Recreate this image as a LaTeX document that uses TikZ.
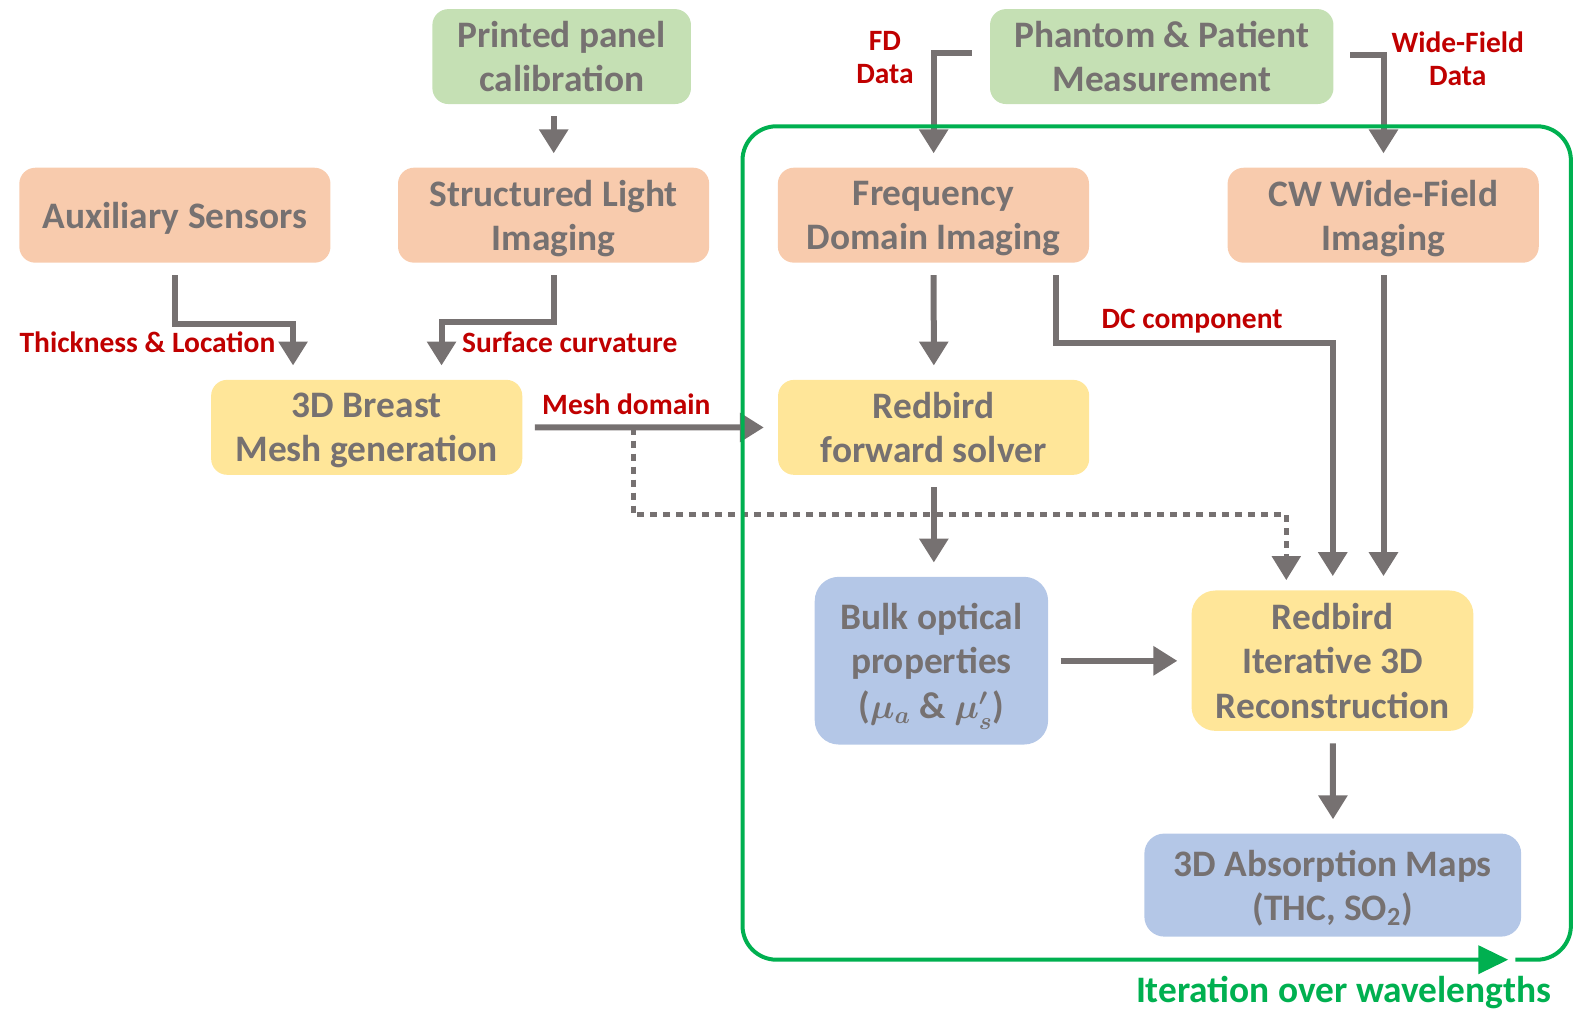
\documentclass[tikz,border=0pt]{standalone}
\usepackage{fontspec}
\setmainfont{Carlito}
\usetikzlibrary{arrows.meta,calc}
\definecolor{boxtext}{HTML}{767171}
\definecolor{arrowgray}{HTML}{767171}
\definecolor{labelred}{HTML}{C00000}
\definecolor{loopgreen}{HTML}{00B050}
\definecolor{greenbox}{HTML}{C5E0B4}
\definecolor{orangebox}{HTML}{F8CBAD}
\definecolor{yellowbox}{HTML}{FFE699}
\definecolor{bluebox}{HTML}{B4C7E7}
\begin{document}
\begin{tikzpicture}[x=0.5pt,y=-0.5pt,scale=1.0102,transform shape,
    >={Triangle[width=14pt,length=12pt]},node distance=105pt,
    box/.style={rounded corners=8pt,minimum width=154pt,minimum height=47pt,
      inner sep=0pt,align=center,text=boxtext,text depth=0pt,
      font=\bfseries\fontsize{18.5}{22}\selectfont},
    src/.style={box,fill=greenbox},
    meas/.style={box,fill=orangebox},
    proc/.style={box,fill=yellowbox},
    res/.style={box,fill=bluebox},
    flow/.style={->,draw=arrowgray,line width=3pt,shorten <=6pt,shorten >=7pt},
    dots/.style={->,draw=arrowgray,line width=2.5pt,dash pattern=on 3.5pt off 3pt,
      shorten >=5pt},
    lbl/.style={text=labelred,font=\bfseries\fontsize{14.6}{16.5}\selectfont,
      align=center,inner sep=1pt},
    iter/.style={text=loopgreen,font=\bfseries\fontsize{18.5}{20}\selectfont,inner sep=1pt}]
  \useasboundingbox (0,0) rectangle (1568,1025.5);

  \node[src,minimum width=128pt] (panel) at (556,56) {Printed panel\\calibration};
  \node[src,minimum width=170pt] (phan) at (1150,56) {Phantom \& Patient\\Measurement};

  \node[meas] (sli) at (548,213) {Structured Light\\Imaging};
  \node[meas] (aux) [left of=sli,node distance=187.5pt] {Auxiliary Sensors};
  \node[meas] (fd) at (924,213) {Frequency\\Domain Imaging};
  \node[meas] (cw) [right of=fd,node distance=222.5pt] {CW Wide-Field\\Imaging};

  \node[proc] (mesh) at (363,423) {3D Breast\\Mesh generation};
  \node[proc] (fwd) [below of=fd] {Redbird\\forward solver};

  \node[res,rounded corners=12pt,minimum width=115.5pt,minimum height=83pt] (bulk)
    at (922,654) {Bulk optical\\properties\\({\boldmath$\mu_a$} \& {\boldmath$\mu'_s$})};
  \node[proc,rounded corners=12pt,minimum width=139.5pt,minimum height=69.5pt] (rec)
    at (1319,654) {Redbird\\Iterative 3D\\Reconstruction};
  \node[res,rounded corners=10pt,minimum width=186.5pt,minimum height=51pt] (maps)
    [below of=rec,node distance=111pt] {3D Absorption Maps\\(THC, SO\textsubscript{2})};

  % measurement inputs
  \draw[flow] (panel.south -| sli.north) -- (sli.north);
  \draw[flow,shorten <=9pt] ([yshift=2pt]phan.west) -| (fd.north);
  \draw[flow,shorten <=8pt] ([yshift=1pt]phan.east) -| (cw.north);
  \node[lbl] (fdlbl) at (876,57) {FD\\Data};
  \node[lbl] (wflbl) at (1443,58) {Wide-Field\\Data};

  % mesh
  \draw[flow] (aux.south) -- ++(0,60) -| ([shift={(-73,0)}]mesh.north);
  \draw[flow] (sli.south) -- ++(0,58) -| ([shift={(74,0)}]mesh.north);
  \node[lbl,anchor=east] (thlbl) at (275,339) {Thickness \& Location};
  \node[lbl,anchor=west] (sclbl) at (455,339) {Surface curvature};
  \draw[flow] (mesh.east) -- (fwd.west);
  \node[lbl] (mdlbl) at (620,400) {Mesh domain};
  \coordinate (split) at ($(mesh.east)+(109,0)$);
  \draw[dots] (split) -- ++(0,86) -| ([shift={(-46,0)}]rec.north);

  % solver and reconstruction
  \draw[flow] (fd.south) -- (fwd.north);
  \draw[flow] ([shift={(121,0)}]fd.south) -- ++(0,79) -| (rec.north);
  \node[lbl] (dclbl) at (1180,318) {DC component};
  \draw[flow] (cw.south) -- (cw.south |- rec.north);
  \draw[flow] (fwd.south) -- (fwd.south |- bulk.north);
  \draw[flow] (bulk.east) -- (rec.west);
  \draw[flow] (rec.south) -- (maps.north);

  % wavelength loop
  \draw[loopgreen,line width=2pt,rounded corners=17pt,
    -{Triangle[width=14pt,length=15pt]}]
    (1500,950) -- (1555,950) -- (1555,125) -- (735,125) -- (735,950) -- (1493,950);
  \node[iter] (iterlbl) at (1330,982) {Iteration over wavelengths};
\end{tikzpicture}
\end{document}
